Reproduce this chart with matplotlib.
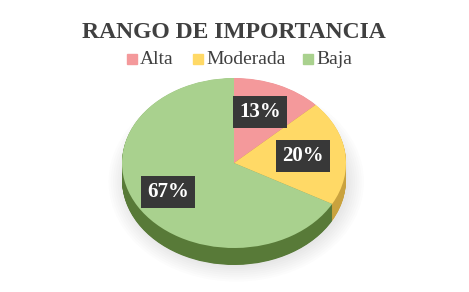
import numpy as np
import matplotlib
matplotlib.use("Agg")
from matplotlib import pyplot as plt
from matplotlib.patches import Rectangle, Ellipse

labels = ["Alta", "Moderada", "Baja"]
values = [13, 20, 67]
top_colors = ["#F4999B", "#FFD966", "#A9D18E"]
side_colors = ["#B86A6A", "#C9A23E", "#587A38"]

fig = plt.figure(figsize=(4.69, 2.92), dpi=100)
fig.patch.set_facecolor("white")

W, H = 469, 292

def fx(x):
    return x / W

def fy(y):
    return 1 - y / H

# titulo
fig.text(fx(234), fy(32), "RANGO DE IMPORTANCIA", ha="center", va="center",
         family="Liberation Serif", weight="bold", fontsize=17, color="#404040")

# leyenda manual
leg_x = [127, 193, 303]
for i in range(3):
    fig.patches.append(Rectangle((fx(leg_x[i]), fy(64)), fx(10), 10 / H,
                                 transform=fig.transFigure, color=top_colors[i]))
    fig.text(fx(leg_x[i] + 13), fy(59), labels[i], ha="left", va="center",
             family="Liberation Serif", fontsize=14, color="#404040")

# pastel (elipse)
left, right, top, bottom = 122, 346, 78, 248
ax = fig.add_axes([fx(left), fy(bottom), (right - left) / W, (bottom - top) / H])
depth = 17 / ((bottom - top) / 2)

# sombra suave
for k in range(8):
    ax.add_patch(Ellipse((0.02, -depth - 0.02), 2.0 + 0.04 * k, 2.0 + 0.05 * k,
                         color="#808080", alpha=0.025, lw=0, clip_on=False))

# lateral
for dz in np.linspace(depth, 0.005, 30):
    ax.pie(values, colors=side_colors, startangle=90, counterclock=False,
           center=(0, -dz), radius=1, wedgeprops=dict(linewidth=0))
# cara superior
ax.pie(values, colors=top_colors, startangle=90, counterclock=False,
       center=(0, 0), radius=1, wedgeprops=dict(linewidth=0))
ax.set_aspect("auto")
ax.set_xlim(-1, 1)
ax.set_ylim(-1, 1)
ax.axis("off")
for p in ax.patches:
    p.set_clip_on(False)

# etiquetas
pos = [(260, 112), (303, 156), (168, 192)]
for v, (x, y) in zip(values, pos):
    fig.text(fx(x), fy(y), "%d%%" % v, ha="center", va="center",
             family="Liberation Serif", weight="bold", fontsize=15, color="white",
             bbox=dict(boxstyle="square,pad=0.3", fc="#383838", ec="none"))

fig.savefig("out.png", dpi=100)
